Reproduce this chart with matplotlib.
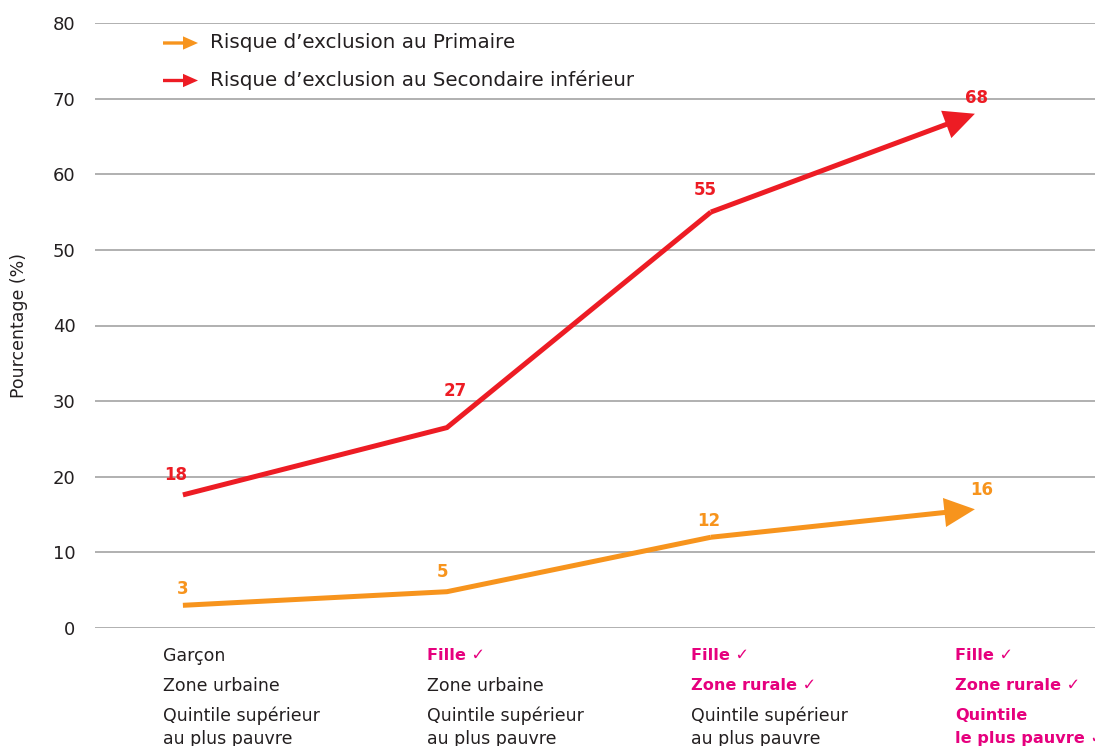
import matplotlib.pyplot as plt

# donnees
profils = ["p1", "p2", "p3", "p4"]
primaire = [3.0, 4.8, 12.0, 15.7]
primaire_lbl = ["3", "5", "12", "16"]
secondaire = [17.6, 26.5, 55.0, 68.0]
secondaire_lbl = ["18", "27", "55", "68"]
yticks = [0, 10, 20, 30, 40, 50, 60, 70, 80]

# lignes de texte sous l'axe : (texte, mis en evidence ?)
lignes_x = [
    [("Garçon", False), ("Zone urbaine", False), ("Quintile supérieur", False), ("au plus pauvre", False)],
    [("Fille ✓", True), ("Zone urbaine", False), ("Quintile supérieur", False), ("au plus pauvre", False)],
    [("Fille ✓", True), ("Zone rurale ✓", True), ("Quintile supérieur", False), ("au plus pauvre", False)],
    [("Fille ✓", True), ("Zone rurale ✓", True), ("Quintile", True), ("le plus pauvre ✓", True)],
]
legende = ["Risque d\u2019exclusion au Primaire", "Risque d\u2019exclusion au Secondaire inférieur"]

ORANGE = "#f7941d"
ROUGE = "#ed1c24"
MAGENTA = "#e6007e"
TEXTE = "#231f20"

plt.rcParams['font.family'] = ["DejaVu Sans"]

fig = plt.figure(figsize=(10.95, 7.46), dpi=100)
ax = fig.add_axes([95 / 1095, 118 / 746, 1000 / 1095, 605 / 746])
ax.set_xlim(-0.333, 3.455)
ax.set_ylim(0, 80)
ax.set_yticks(yticks)
ax.set_xticks([])
ax.tick_params(axis='y', length=0, labelsize=13, labelcolor=TEXTE, pad=14)
for s in ax.spines.values():
    s.set_visible(False)
ax.grid(axis='y', color='#a3a3a3', lw=1.2)
ax.set_axisbelow(True)
ax.set_ylabel("Pourcentage (%)", fontsize=12.5, color=TEXTE, labelpad=18)

x = list(range(len(profils)))


def tracer(vals, couleur):
    ax.plot(x[:3], vals[:3], color=couleur, lw=3.6, solid_joinstyle='miter',
            solid_capstyle='butt', zorder=3)
    ax.annotate("", xy=(x[3], vals[3]), xytext=(x[2], vals[2]),
                arrowprops=dict(arrowstyle='simple,head_length=1.1,head_width=1.05,tail_width=0.18',
                                fc=couleur, ec='none', lw=0, mutation_scale=20,
                                shrinkA=0, shrinkB=0), zorder=3)


tracer(primaire, ORANGE)
tracer(secondaire, ROUGE)

# etiquettes de valeurs
decal_rouge = [(-5, 14), (6, 26), (-4, 16), (1, 11.5)]
decal_orange = [(0, 12), (-3, 14), (-1.5, 12), (5, 14)]
for i in x:
    ax.annotate(secondaire_lbl[i], (x[i], secondaire[i]), xytext=decal_rouge[i],
                textcoords='offset points', ha='center', va='center',
                color=ROUGE, fontsize=12, fontweight='bold')
    ax.annotate(primaire_lbl[i], (x[i], primaire[i]), xytext=decal_orange[i],
                textcoords='offset points', ha='center', va='center',
                color=ORANGE, fontsize=12, fontweight='bold')

# legende dessinee a la main
for k, (txt, c) in enumerate(zip(legende, [ORANGE, ROUGE])):
    yy = 1 - (20 + 37.5 * k) / 605
    ax.annotate("", xy=(198 / 1000 - 95 / 1000, yy), xytext=(163 / 1000 - 95 / 1000, yy),
                xycoords='axes fraction', textcoords='axes fraction',
                arrowprops=dict(arrowstyle='simple,head_length=0.9,head_width=0.8,tail_width=0.2',
                                fc=c, ec='none', lw=0, mutation_scale=12,
                                shrinkA=0, shrinkB=0))
    ax.text(210 / 1000 - 95 / 1000, yy, txt, transform=ax.transAxes,
            ha='left', va='center', fontsize=14.3, color=TEXTE)

# texte des categories sous l'axe
px = 80 / 605  # unites de donnees par pixel vertical
y_lignes = [-28 * px, -58 * px, -88 * px, -111 * px]
for i, lignes in enumerate(lignes_x):
    for j, (txt, fort) in enumerate(lignes):
        ax.text(x[i] - 20 / 264, y_lignes[j], txt, ha='left', va='center',
                fontsize=11.6 if fort else 12.5, clip_on=False,
                color=MAGENTA if fort else TEXTE,
                fontweight='bold' if fort else 'normal')

fig.savefig("out.png", dpi=100)
